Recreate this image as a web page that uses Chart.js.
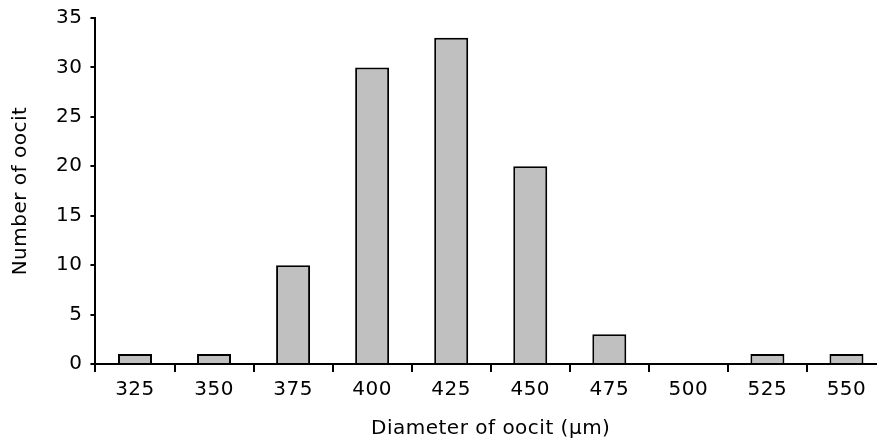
<!DOCTYPE html>
<html>
<head>
<meta charset="utf-8">
<script src="https://cdn.jsdelivr.net/npm/chart.js@4/dist/chart.umd.min.js"></script>
<style>
  html, body { margin: 0; padding: 0; background: #fff; overflow: hidden; }
  #wrap { width: 886px; height: 441px; }
</style>
</head>
<body>
<div id="wrap"><canvas id="myChart"></canvas></div>
<script>
// Oocyte diameter classes and counts
const diameters = ['325', '350', '375', '400', '425', '450', '475', '500', '525', '550'];
const counts = [1, 1, 10, 30, 33, 20, 3, 0, 1, 1];

// Spread the letters slightly, like the old spreadsheet font
// (canvas resize wipes the context state, so set it before every layout and draw)
const spacing = {
    id: 'spacing',
    beforeUpdate(chart) { chart.ctx.letterSpacing = '0.5px'; },
    beforeLayout(chart) { chart.ctx.letterSpacing = '0.5px'; },
    beforeDraw(chart) { chart.ctx.letterSpacing = '0.5px'; }
};

const font = { family: 'DejaVu Sans', size: 20 };

const ctx = document.getElementById('myChart').getContext('2d');
const myChart = new Chart(ctx, {
    type: 'bar',
    data: {
        labels: diameters,
        datasets: [{
            data: counts,
            backgroundColor: '#c0c0c0',
            borderColor: '#000',
            borderWidth: 2,
            borderSkipped: 'bottom',
            barPercentage: 0.43,
            categoryPercentage: 1
        }]
    },
    plugins: [spacing],
    options: {
        responsive: true,
        maintainAspectRatio: false,
        animation: false,
        layout: { padding: { top: 3, left: 9, right: 0, bottom: 0 } },
        plugins: {
            legend: { display: false },
            tooltip: { enabled: false }
        },
        scales: {
            x: {
                grid: {
                    offset: true,
                    drawOnChartArea: false,
                    color: '#000',
                    lineWidth: 2,
                    tickLength: 8
                },
                border: { color: '#000', width: 2 },
                ticks: {
                    color: '#000',
                    padding: 6,
                    maxRotation: 0,
                    font: font
                },
                title: {
                    display: true,
                    text: 'Diameter of oocit (µm)',
                    color: '#000',
                    padding: { top: 9, bottom: 0 },
                    font: font
                }
            },
            y: {
                min: 0,
                max: 35,
                grid: {
                    drawOnChartArea: false,
                    color: '#000',
                    lineWidth: 2,
                    tickLength: 5
                },
                border: { color: '#000', width: 2 },
                ticks: {
                    stepSize: 5,
                    color: '#000',
                    padding: 8,
                    font: { family: 'DejaVu Sans', size: 20, lineHeight: 1 }
                },
                title: {
                    display: true,
                    text: 'Number of oocit',
                    color: '#000',
                    padding: { top: 0, bottom: 15 },
                    font: font
                }
            }
        }
    }
});
</script>
</body>
</html>
